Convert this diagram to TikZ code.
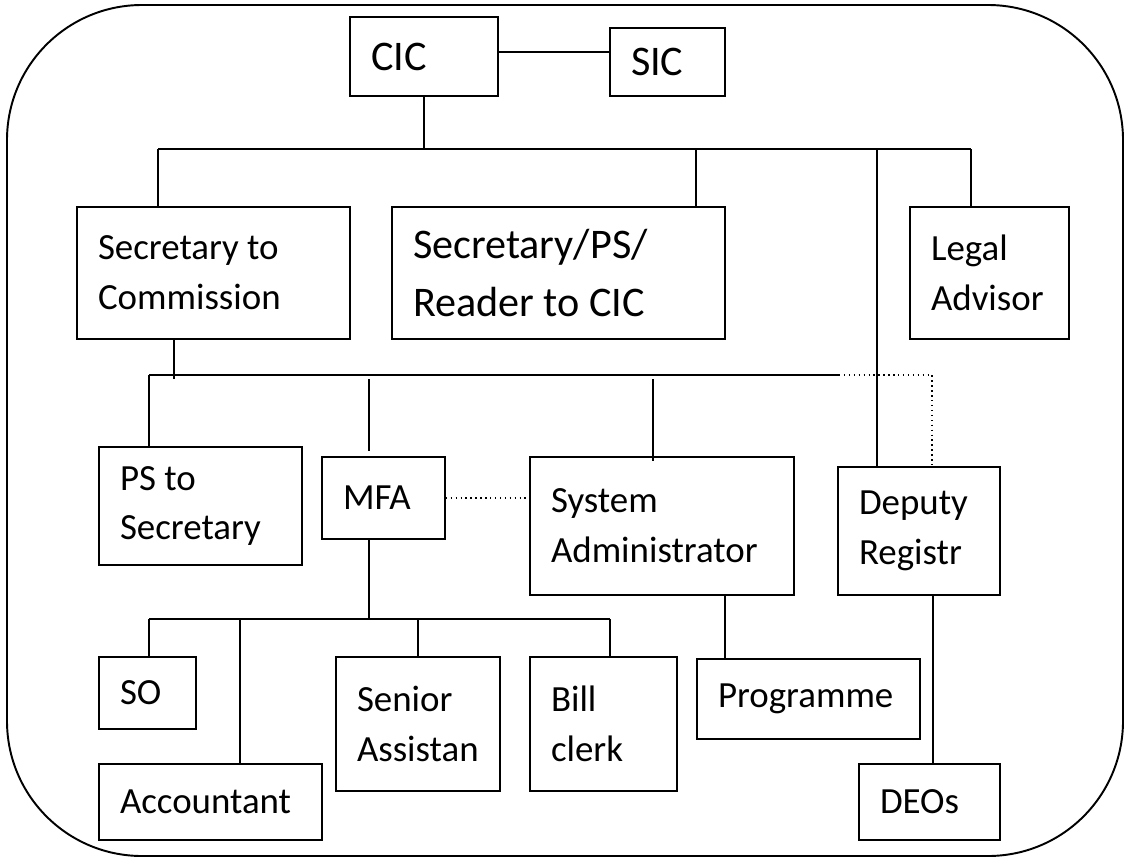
\documentclass[tikz,border=0pt]{standalone}
\usepackage{fontspec}
\setmainfont{Carlito}
\tikzset{
  unit/.style={draw, line width=0.9pt, align=flush left, inner xsep=0.42cm, inner ysep=0pt,
    font=\fontsize{21}{28.4}\selectfont},
  bigunit/.style={unit, font=\fontsize{24}{33.5}\selectfont},
  link/.style={line width=0.8pt},
}
\begin{document}
\begin{tikzpicture}[x=0.02cm,y=-0.02cm]
                \useasboundingbox (0,0) rectangle (1125,859);
                \draw[line width=1.1pt, rounded corners=2.7cm] (7,5) rectangle (1123,856);

                \node[bigunit, text width=2.12cm, minimum height=1.58cm] (cic) at (424,56.5) {CIC};
                \node[bigunit, text width=1.46cm, minimum height=1.36cm] (sic) at (667.5,62) {SIC};
                \node[unit, text width=4.62cm, minimum height=2.64cm] (seccom) at (213.5,273) {Secretary to\\Commission};
                \node[bigunit, text width=5.82cm, minimum height=2.64cm] (secps) at (558.5,273) {Secretary/PS/\\Reader to CIC};
                \node[unit, text width=2.34cm, minimum height=2.64cm] (legal) at (989.5,273) {Legal\\Advisor};
                \node[unit, text width=3.22cm, minimum height=2.36cm] (pssec) at (200.5,506) {PS to\\Secretary};
                \node[unit, text width=1.62cm, minimum height=1.64cm] (mfa) at (383.5,498) {MFA};
                \node[unit, text width=4.44cm, minimum height=2.76cm] (sysadm) at (662,526) {System\\Administrator};
                \node[unit, text width=2.40cm, minimum height=2.56cm] (depreg) at (919,531) {Deputy\\Registr};
                \node[unit, text width=1.10cm, minimum height=1.44cm] (so) at (147.5,693) {SO};
                \node[unit, text width=3.62cm, minimum height=1.52cm] (acct) at (210.5,802) {Accountant};
                \node[unit, text width=2.44cm, minimum height=2.68cm] (senasst) at (418,724) {Senior\\Assistan};
                \node[unit, text width=2.10cm, minimum height=2.68cm] (bill) at (603.5,724) {Bill\\clerk};
                \node[unit, text width=3.62cm, minimum height=1.60cm] (prog) at (808.5,699) {Programme};
                \node[unit, text width=1.98cm, minimum height=1.52cm] (deos) at (929.5,802) {DEOs};

                \coordinate (busaw) at (158,149);
                \coordinate (busae) at (971,149);
                \coordinate (busasp) at (696,149);
                \coordinate (busadr) at (877,149);
                \coordinate (busbw) at (149,375);
                \coordinate (busbe) at (839,375);
                \coordinate (busbdr) at (932,375);
                \coordinate (dropsc) at (174,379);
                \coordinate (dropmfa) at (369,379);
                \coordinate (dropsa) at (653,379);
                \coordinate (buscw) at (149,619);
                \coordinate (busce) at (610,619);
                \coordinate (dropacct) at (240,619);
                \coordinate (dropprog) at (725,659);
                \coordinate (dropdeos) at (933,764);

                \draw[link] ([yshift=0.09cm]cic.east) -- ([yshift=0.09cm]cic.east -| sic.west);
                \draw[link] (cic.south) -- (cic.south |- busaw);
                \draw[link] (busaw) -- (busae);
                \draw[link] (busaw) -- (busaw |- seccom.north);
                \draw[link] (busasp) -- (busasp |- secps.north);
                \draw[link] (busae) -- (busae |- legal.north);
                \draw[link] (busadr) -- (busadr |- depreg.north);

                \draw[link] (seccom.south -| dropsc) -- (dropsc);
                \draw[link] (busbw) -- (busbe);
                \draw[link, dotted] (busbe) -- (busbdr) -- (busbdr |- depreg.north);
                \draw[link] (busbw) -- (busbw |- pssec.north);
                \draw[link] (dropmfa) -- ([yshift=0.1cm]mfa.north -| dropmfa);
                \draw[link] (dropsa) -- ([yshift=-0.1cm]sysadm.north -| dropsa);
                \draw[link, dotted] (mfa.east) -- (mfa.east -| sysadm.west);

                \draw[link] (mfa.south -| dropmfa) -- (dropmfa |- buscw);
                \draw[link] (buscw) -- (busce);
                \draw[link] (buscw) -- (buscw |- so.north);
                \draw[link] (dropacct) -- (dropacct |- acct.north);
                \draw[link] (senasst.north |- buscw) -- (senasst.north);
                \draw[link] (busce) -- (busce |- bill.north);
                \draw[link] (sysadm.south -| dropprog) -- (prog.north -| dropprog);
                \draw[link] (depreg.south -| dropdeos) -- (dropdeos);
            \end{tikzpicture}
\end{document}
